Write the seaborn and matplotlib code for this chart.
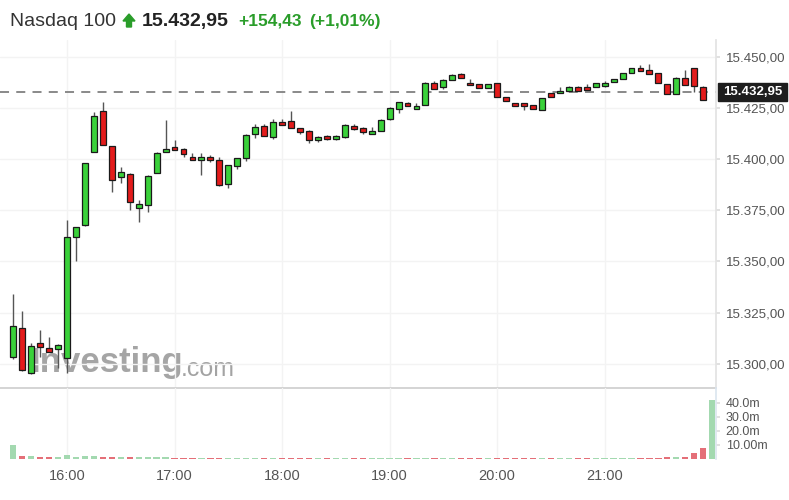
import numpy as np
import pandas as pd
import matplotlib.pyplot as plt
from matplotlib.patches import Polygon, Rectangle
import seaborn as sns

sns.set_theme(style="white")
plt.rcParams["font.family"] = ["Liberation Sans", "DejaVu Sans"]

# 5-minute candles, 15:30 -> 21:55
opens = [15303.3, 15317.5, 15295.5, 15310.2, 15307.7, 15307.2, 15302.8, 15361.9, 15367.8, 15403.4,
         15423.4, 15406.3, 15391.2, 15392.7, 15376.1, 15377.5, 15393.2, 15403.4, 15405.9, 15404.9,
         15401.0, 15399.5, 15401.0, 15399.5, 15387.8, 15396.6, 15400.5, 15412.2, 15416.1, 15410.7,
         15418.1, 15418.6, 15415.1, 15413.7, 15409.3, 15411.2, 15409.8, 15410.7, 15416.1, 15415.1,
         15412.2, 15413.7, 15419.5, 15424.4, 15427.3, 15424.4, 15426.4, 15437.1, 15435.2, 15438.6,
         15441.5, 15437.1, 15436.6, 15434.7, 15437.1, 15430.3, 15427.3, 15427.3, 15426.4, 15423.9,
         15432.2, 15432.2, 15433.2, 15435.2, 15435.2, 15435.2, 15435.4, 15437.6, 15439.1, 15442.0,
         15444.4, 15443.5, 15442.0, 15436.6, 15431.7, 15439.6, 15444.4, 15435.2]
highs = [15334.1, 15325.8, 15310.2, 15316.5, 15313.1, 15309.5, 15370.2, 15366.8, 15398.2, 15422.9,
         15427.8, 15406.5, 15396.1, 15393.0, 15380.0, 15392.0, 15403.2, 15419.0, 15409.3, 15405.2,
         15402.9, 15402.9, 15402.0, 15401.0, 15397.3, 15400.7, 15412.0, 15417.1, 15417.1, 15419.5,
         15419.5, 15423.4, 15415.3, 15414.0, 15411.0, 15411.5, 15411.6, 15417.0, 15417.1, 15415.4,
         15415.6, 15419.3, 15425.2, 15428.0, 15427.6, 15427.3, 15437.4, 15438.1, 15438.9, 15441.3,
         15441.8, 15439.1, 15436.8, 15436.8, 15437.3, 15430.5, 15427.5, 15427.5, 15426.6, 15430.0,
         15432.4, 15435.2, 15435.4, 15435.4, 15436.6, 15437.3, 15438.1, 15439.3, 15442.2, 15444.6,
         15445.9, 15446.4, 15442.2, 15436.8, 15439.8, 15443.5, 15444.6, 15435.4]
lows = [15302.5, 15296.5, 15295.0, 15303.3, 15305.8, 15297.9, 15295.5, 15350.2, 15367.5, 15403.2,
        15406.6, 15383.9, 15388.3, 15375.1, 15369.2, 15374.1, 15393.0, 15403.2, 15404.2, 15401.0,
        15399.3, 15392.2, 15398.5, 15387.0, 15385.8, 15395.1, 15399.0, 15410.3, 15411.0, 15409.8,
        15416.4, 15415.0, 15412.2, 15407.8, 15408.3, 15409.5, 15409.5, 15410.3, 15414.4, 15412.2,
        15412.0, 15413.5, 15419.0, 15422.5, 15425.7, 15424.2, 15426.2, 15434.0, 15434.2, 15438.4,
        15439.4, 15435.9, 15434.5, 15434.5, 15430.1, 15428.1, 15425.7, 15423.9, 15424.2, 15423.7,
        15430.1, 15432.0, 15433.0, 15433.0, 15433.5, 15435.0, 15435.2, 15437.4, 15438.9, 15441.8,
        15442.8, 15441.3, 15436.9, 15431.5, 15431.5, 15435.9, 15432.7, 15428.6]
closes = [15318.5, 15297.0, 15308.7, 15308.2, 15306.0, 15309.2, 15361.9, 15366.8, 15398.0, 15421.0,
          15406.8, 15389.7, 15393.7, 15379.0, 15378.0, 15391.7, 15402.9, 15404.9, 15404.4, 15402.4,
          15399.5, 15401.0, 15399.5, 15387.3, 15397.1, 15400.5, 15411.7, 15415.6, 15411.2, 15418.1,
          15416.6, 15415.1, 15413.2, 15409.3, 15410.7, 15409.8, 15411.2, 15416.6, 15414.6, 15413.2,
          15413.7, 15419.0, 15424.9, 15427.8, 15425.9, 15425.9, 15437.1, 15434.2, 15438.6, 15441.0,
          15439.6, 15436.1, 15434.7, 15436.6, 15430.3, 15428.3, 15425.9, 15425.9, 15424.4, 15429.8,
          15430.3, 15433.2, 15435.2, 15433.2, 15433.7, 15437.1, 15437.1, 15439.1, 15442.0, 15444.4,
          15443.0, 15441.5, 15437.1, 15431.7, 15439.6, 15436.1, 15435.6, 15428.8]

# volume in millions (last bar = closing cross)
volume = [10.0, 2.0, 2.0, 1.4, 1.4, 1.4, 3.0, 1.4, 1.8, 1.8,
          1.5, 1.5, 1.3, 1.3, 1.3, 1.3, 1.2, 1.2, 1.0, 1.0,
          1.0, 1.0, 1.0, 1.0, 1.0, 1.0, 1.0, 1.0, 1.0, 1.0,
          1.0, 1.0, 1.0, 1.0, 1.0, 1.0, 1.0, 1.0, 1.0, 1.0,
          1.0, 1.0, 1.0, 1.0, 1.0, 1.0, 1.0, 1.0, 1.0, 1.0,
          1.0, 1.0, 1.0, 1.0, 1.0, 1.0, 1.0, 1.0, 1.0, 1.0,
          1.0, 1.0, 1.0, 1.0, 1.0, 1.0, 1.0, 1.0, 1.0, 1.0,
          1.0, 1.0, 1.0, 1.4, 1.2, 1.4, 4.1, 8.1, 42.0]

hour_labels = ["16:00", "17:00", "18:00", "19:00", "20:00", "21:00"]
hour_idx = [6, 18, 30, 42, 54, 66]
price_ticks = [15300, 15325, 15350, 15375, 15400, 15425, 15450]
vol_ticks = [10, 20, 30, 40]
vol_tick_labels = ["10.00m", "20.0m", "30.0m", "40.0m"]
last_price = 15432.95

GREEN = "#3ad13a"
RED = "#e31b1b"
TXT_GREEN = "#2a9d2a"

W, H = 789, 500
fx = lambda px: px / W
fy = lambda py: 1 - py / H


def fmt_price(v):
    return f"{v:,.2f}".replace(",", " ").replace(".", ",").replace(" ", ".")


o, h, l, c = map(np.array, (opens, highs, lows, closes))
idx = np.arange(len(o))
up = c >= o

fig = plt.figure(figsize=(W / 100, H / 100), dpi=100)
ax = fig.add_axes([0, fy(388), fx(716), fy(40) - fy(388)])
axv = fig.add_axes([0, fy(459), fx(716), fy(388) - fy(459)])
ax.patch.set_alpha(0)
axv.patch.set_alpha(0)

# watermark, behind the candles
fig.text(fx(31), fy(372), "Investing", fontsize=25, fontweight="bold", color="#8f8f8f",
         alpha=0.8, va="baseline", zorder=-1)
fig.text(fx(181), fy(376), ".com", fontsize=18, color="#a3a3a3", va="baseline", zorder=-1)

# candles
ax.vlines(idx, l, h, color="#555555", lw=1, zorder=2)
body_bot = np.minimum(o, c)
body_h = np.maximum(np.abs(c - o), 0.9)
ax.bar(idx, body_h, bottom=body_bot, width=0.66, color=np.where(up, GREEN, RED),
       edgecolor="#1a1a1a", linewidth=0.9, zorder=3)
ax.axhline(last_price, color="#808080", ls=(0, (5, 4)), lw=1.3, zorder=1)

ax.set_xlim(-1.48, 78.43)
ax.set_ylim(15288.2, 15458.1)
ax.set_yticks(price_ticks, [fmt_price(v) for v in price_ticks])
ax.set_xticks(hour_idx)
ax.yaxis.tick_right()
ax.tick_params(axis="y", length=3, color="#dddddd", pad=4, labelsize=9.6, labelcolor="#555555")
ax.tick_params(axis="x", length=0, labelbottom=False)
ax.grid(True, color="#f3f3f3", lw=1)
for s in ("top", "left"):
    ax.spines[s].set_visible(False)
ax.spines["right"].set_color("#e3e3e3")
ax.spines["bottom"].set_color("#cfcfcf")

# volume
vol_up = list(up) + [True]
vol_df = pd.DataFrame({"i": np.arange(len(volume)), "vol": volume,
                       "dir": np.where(vol_up, "up", "down")})
sns.barplot(data=vol_df, x="i", y="vol", hue="dir", native_scale=True, dodge=False,
            palette={"up": "#a3d9b0", "down": "#e46f78"}, width=0.7, saturation=1,
            errorbar=None, legend=False, linewidth=0, ax=axv)
axv.set_xlabel("")
axv.set_ylabel("")
axv.set_xlim(-1.48, 78.43)
axv.set_ylim(0, 50.7)
axv.set_yticks(vol_ticks, vol_tick_labels)
axv.set_xticks(hour_idx, hour_labels)
axv.yaxis.tick_right()
axv.tick_params(axis="y", length=3, color="#dddddd", pad=4, labelsize=9, labelcolor="#555555")
axv.tick_params(axis="x", length=0, pad=7, labelsize=10.5, labelcolor="#555555")
axv.grid(True, axis="x", color="#f3f3f3", lw=1)
axv.set_axisbelow(True)
for s in ("top", "left", "bottom"):
    axv.spines[s].set_visible(False)
axv.spines["right"].set_color("#dce6f0")

# last price tag
fig.patches.append(Rectangle((fx(718), fy(101)), fx(69), 18 / H, transform=fig.transFigure,
                             color="#1e1e1e", zorder=5))
fig.text(fx(752.5), fy(92), fmt_price(last_price), color="white", fontsize=9.5,
         fontweight="bold", ha="center", va="center", zorder=6)

# header
fig.text(fx(10), fy(26), "Nasdaq 100", fontsize=14, color="#333333", va="baseline")
arrow = [(123, 21), (129, 14), (135, 21), (131.5, 21), (131.5, 27), (126.5, 27), (126.5, 21)]
fig.patches.append(Polygon([(fx(x), fy(y)) for x, y in arrow], closed=True,
                           transform=fig.transFigure, color=TXT_GREEN))
fig.text(fx(142), fy(26), fmt_price(last_price), fontsize=14, fontweight="bold",
         color="#222222", va="baseline")
fig.text(fx(238), fy(26), "+154,43", fontsize=12.5, fontweight="bold", color=TXT_GREEN,
         va="baseline")
fig.text(fx(309), fy(26), "(+1,01%)", fontsize=12.5, fontweight="bold", color=TXT_GREEN,
         va="baseline")

fig.savefig("out.png", dpi=100)
